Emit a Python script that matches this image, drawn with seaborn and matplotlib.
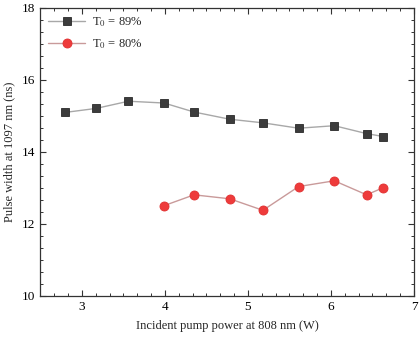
import matplotlib
matplotlib.use("Agg")
import matplotlib.pyplot as plt
import seaborn as sns
import pandas as pd
from matplotlib.ticker import AutoMinorLocator, MultipleLocator

# Data
power_89 = [2.80, 3.17, 3.56, 3.99, 4.35, 4.78, 5.18, 5.61, 6.04, 6.43, 6.63]
width_89 = [15.10, 15.21, 15.41, 15.36, 15.11, 14.91, 14.81, 14.66, 14.73, 14.51, 14.43]
power_80 = [3.99, 4.35, 4.78, 5.18, 5.61, 6.04, 6.43, 6.63]
width_80 = [12.51, 12.81, 12.70, 12.38, 13.04, 13.20, 12.81, 13.01]

df89 = pd.DataFrame({"power": power_89, "width": width_89})
df80 = pd.DataFrame({"power": power_80, "width": width_80})

sns.set_style("ticks")
plt.rcParams['font.family'] = ['Liberation Serif', 'DejaVu Serif']
plt.rcParams['mathtext.fontset'] = 'stix'

fig = plt.figure(figsize=(4.2, 3.37), dpi=100)
ax = fig.add_axes([0.0964, 0.1217, 0.8893, 0.8546])

sns.lineplot(data=df89, x="power", y="width", ax=ax, color="#a8a8a8", lw=1,
             marker="s", markersize=5.8, markerfacecolor="#3c3c3c",
             markeredgecolor="#2a2a2a", markeredgewidth=0.6,
             label=r"T$_0$ = 89%")
sns.lineplot(data=df80, x="power", y="width", ax=ax, color="#c99a9a", lw=1,
             marker="o", markersize=6.5, markerfacecolor="#ee3b3b",
             markeredgecolor="#e03030", markeredgewidth=0.6,
             label=r"T$_0$ = 80%")

ax.set_xlim(2.5, 7)
ax.set_ylim(10, 18)
ax.xaxis.set_major_locator(MultipleLocator(1))
ax.yaxis.set_major_locator(MultipleLocator(2))
ax.xaxis.set_minor_locator(AutoMinorLocator(6))
ax.yaxis.set_minor_locator(AutoMinorLocator(6))
ax.tick_params(which="both", direction="in", top=True, right=True,
               colors="#333333", labelcolor="black", labelsize=9.5)
ax.tick_params(which="major", length=4, width=0.8)
ax.tick_params(which="minor", length=2, width=0.7)
for s in ax.spines.values():
    s.set_color("#333333")
    s.set_linewidth(0.9)

ax.set_xlabel("Incident pump power at 808 nm (W)", fontsize=9, labelpad=5)
ax.set_ylabel("Pulse width at 1097 nm (ns)", fontsize=9, labelpad=5)

leg = ax.legend(loc="upper left", frameon=False, fontsize=9,
                handlelength=3, handletextpad=0.5, labelspacing=0.65,
                borderaxespad=0.3, borderpad=0.3)

fig.savefig("out.png", dpi=100)
